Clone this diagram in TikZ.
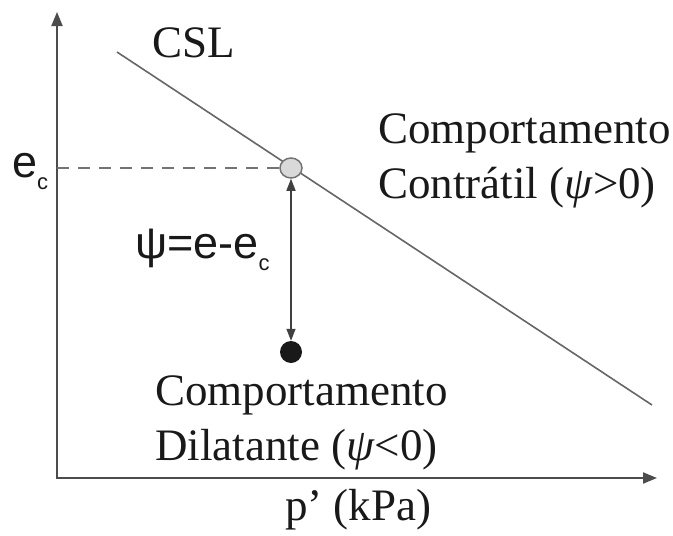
\documentclass[tikz,border=0pt]{standalone}
\usepackage{fontspec}
\setmainfont{Liberation Serif}
\newfontfamily\sansf{Liberation Sans}
\usetikzlibrary{arrows.meta,shapes.geometric}
\newcommand{\subc}{\raisebox{-12pt}{\fontsize{22}{22}\selectfont c}}
\begin{document}
\begin{tikzpicture}[x=1pt,y=-1pt,
  axis/.style={draw=black!70,line width=2pt},
  csl/.style={draw=black!60,line width=1.6pt},
  lbl/.style={inner sep=0pt,anchor=base west,font=\fontsize{45}{55}\selectfont,text=black!90},
  slbl/.style={inner sep=0pt,anchor=base west,font=\sansf\fontsize{45}{55}\selectfont,text=black!90}]
\useasboundingbox (0,0) rectangle (673,536);
\coordinate (O) at (57,478);
\coordinate (ytop) at (57,12);
\coordinate (xend) at (657,478);
\coordinate (c1) at (117,52);
\coordinate (c2) at (652,405);
\coordinate (ecpt) at (57,168);
\draw[axis,{Triangle[length=14pt,width=11pt]}-{Triangle[length=14pt,width=11pt]}] (ytop) -- (O) -- (xend);
\draw[csl] (c1) -- (c2);
\node[ellipse,draw=black!55,fill=black!15,line width=1.5pt,minimum width=22pt,minimum height=20pt,inner sep=0pt] (ce) at (291,168) {};
\node[circle,fill=black!90,minimum size=22pt,inner sep=0pt] (cd) at (291,352) {};
\draw[draw=black!55,line width=2pt,dash pattern=on 12pt off 9pt] (ecpt) -- (ce.west);
\draw[draw=black!75,line width=1.4pt,{Triangle[length=12pt,width=9pt]}-{Triangle[length=12pt,width=9pt]}] (ce.south) -- (cd.north);
\node[lbl] (tcsl) at (152,57) {CSL};
\node[slbl] (tec) at (12,177) {e\subc};
\node[slbl] (tpsi) at (135,258) {ψ=e-e\subc};
\node[lbl] (tc1) at (378,143) {Comportamento};
\node[lbl] (tc2) at (378,198) {Contrátil (\textit{ψ}>0)};
\node[lbl] (td1) at (155,405) {Comportamento};
\node[lbl] (td2) at (155,460) {Dilatante (\textit{ψ}<0)};
\node[lbl] (tp) at (285,520) {p’ (kPa)};
\end{tikzpicture}
\end{document}
